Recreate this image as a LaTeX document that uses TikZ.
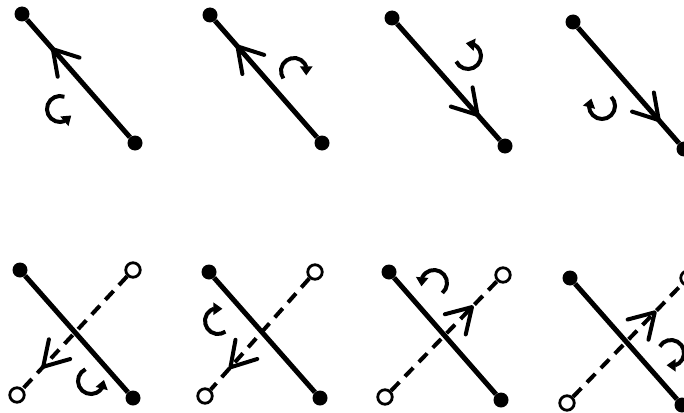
\documentclass[tikz,border=0pt]{standalone}
\usetikzlibrary{arrows.meta,bending,decorations.markings}
\tikzset{
 dot/.style={circle,fill=black,inner sep=0pt,minimum size=15pt},
 odot/.style={circle,draw=black,line width=2.8pt,fill=white,inner sep=0pt,minimum size=14.5pt},
 rod/.style={line width=5pt},
 ghost/.style={line width=4pt,dash pattern=on 12pt off 8pt},
 vhead/.style={postaction={decorate},decoration={markings,mark=at position #1 with {\draw[solid,line width=4pt,line cap=round,line join=round] (-24pt,14.5pt) -- (0pt,0pt) -- (-24pt,-14.5pt);}}},
 curl/.style={line width=4pt,-{Triangle[length=9pt,width=12pt,flex'=1]}},
}
\begin{document}
\begin{tikzpicture}[x=1pt,y=-1pt]
\useasboundingbox (0,0) rectangle (684,412);
\clip (0,0) rectangle (684,412);
% ---- top row
\node[dot] (a1) at (22,14) {};
\node[dot] (b1) at (135,143) {};
\draw[rod,vhead=0.75] (b1) -- (a1);
\draw[curl] (60,109) ++(70:13pt) arc[start angle=70,end angle=330,radius=13pt];

\node[dot] (a2) at (210,15) {};
\node[dot] (b2) at (322,143) {};
\draw[rod,vhead=0.78] (b2) -- (a2);
\draw[curl] (294,71) ++(215:13pt) arc[start angle=215,end angle=-20,radius=13pt];

\node[dot] (a3) at (392,18) {};
\node[dot] (b3) at (505,146) {};
\draw[rod,vhead=0.783] (a3) -- (b3);
\draw[curl] (468,56) ++(205:13pt) arc[start angle=205,end angle=460,radius=13pt];

\node[dot] (a4) at (573,22) {};
\node[dot] (b4) at (684,149) {};
\draw[rod,vhead=0.80] (a4) -- (b4);
\draw[curl] (602,106) ++(45:13pt) arc[start angle=45,end angle=-215,radius=13pt];

% ---- bottom row
\node[dot] (a5) at (20,270) {};
\node[dot] (b5) at (133,398) {};
\node[odot] (c5) at (133,270) {};
\node[odot] (d5) at (17,395) {};
\draw[ghost,vhead=0.805] (c5) -- (d5);
\draw[rod] (a5) -- (b5);
\draw[curl] (91,381) ++(115:13pt) arc[start angle=115,end angle=365,radius=13pt];

\node[dot] (a6) at (209,272) {};
\node[dot] (b6) at (320,398) {};
\node[odot] (c6) at (315,272) {};
\node[odot] (d6) at (205,396) {};
\draw[ghost,vhead=0.80] (c6) -- (d6);
\draw[rod] (a6) -- (b6);
\draw[curl] (218,321) ++(-55:13pt) arc[start angle=-55,end angle=-290,radius=13pt];

\node[dot] (a7) at (389,272) {};
\node[dot] (b7) at (501,400) {};
\node[odot] (c7) at (503,275) {};
\node[odot] (d7) at (385,397) {};
\draw[ghost,vhead=0.764] (d7) -- (c7);
\draw[rod] (a7) -- (b7);
\draw[curl] (434,283) ++(-50:13pt) arc[start angle=-50,end angle=195,radius=13pt];

\node[dot] (a8) at (570,278) {};
\node[dot] (b8) at (682,405) {};
\node[odot] (c8) at (688,278) {};
\node[odot] (d8) at (567,403) {};
\draw[ghost,vhead=0.75] (d8) -- (c8);
\draw[rod] (a8) -- (b8);
\draw[curl] (671,353) ++(150:13pt) arc[start angle=150,end angle=-110,radius=13pt];
\end{tikzpicture}
\end{document}
